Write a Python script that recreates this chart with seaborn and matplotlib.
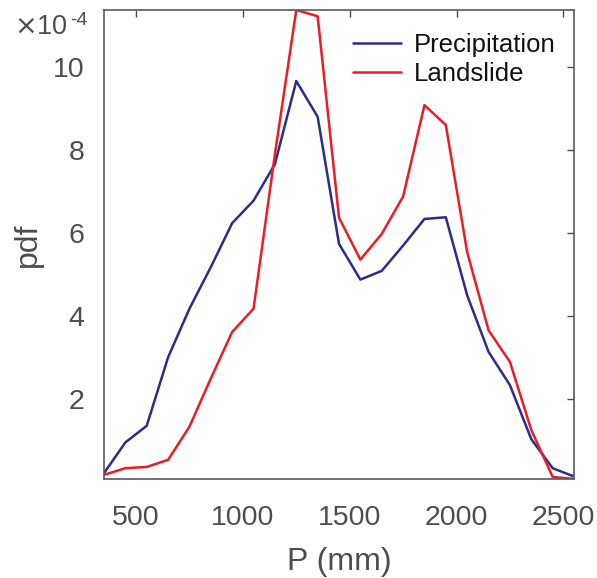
import numpy as np
import pandas as pd
import matplotlib
matplotlib.use("Agg")
import matplotlib.pyplot as plt
import seaborn as sns

# Data (pdf in units of 1e-4)
p_mm = [350, 450, 550, 650, 750, 850, 950, 1050, 1150, 1250, 1350, 1450,
        1550, 1650, 1750, 1850, 1950, 2050, 2150, 2250, 2350, 2450, 2550]
precipitation = [0.22, 0.96, 1.36, 3.01, 4.18, 5.18, 6.24, 6.78, 7.66, 9.66, 8.80, 5.74,
                 4.88, 5.09, 5.70, 6.34, 6.38, 4.50, 3.14, 2.34, 1.04, 0.34, 0.14]
landslide = [0.18, 0.34, 0.37, 0.54, 1.34, 2.50, 3.62, 4.18, 7.90, 11.37, 11.22, 6.37,
             5.36, 5.98, 6.88, 9.08, 8.60, 5.54, 3.66, 2.90, 1.26, 0.13, 0.08]
series_names = ["Precipitation", "Landslide"]
x_ticks = [500, 1000, 1500, 2000, 2500]
y_ticks = [2, 4, 6, 8, 10]

df = pd.DataFrame({
    "P": p_mm * 2,
    "pdf": precipitation + landslide,
    "series": [series_names[0]] * len(p_mm) + [series_names[1]] * len(p_mm),
})

sns.set_theme(style="white")
plt.rcParams["font.family"] = ["Liberation Sans", "DejaVu Sans"]

fig = plt.figure(figsize=(5.97, 5.78), dpi=100)
ax = fig.add_axes([0.1742, 0.1713, 0.7873, 0.8114])

palette = {"Precipitation": "#2B2C8C", "Landslide": "#EC1C24"}
sns.lineplot(data=df, x="P", y="pdf", hue="series", palette=palette,
             linewidth=1.8, ax=ax, legend=True)

ax.set_xlim(350, 2550)
ax.set_ylim(0.08, 11.37)
ax.set_xticks(x_ticks)
ax.set_yticks(y_ticks)
gray = "#4D4D4D"
ax.tick_params(direction="in", length=5, width=1.0, colors=gray,
               labelsize=20.5, top=True, right=True, labeltop=False, labelright=False)
ax.tick_params(axis="x", pad=19)
ax.tick_params(axis="y", pad=14)
for s in ax.spines.values():
    s.set_color("#5A5A5A")
    s.set_linewidth(1.2)
ax.set_xlabel("P (mm)", fontsize=23, color=gray, labelpad=11)
ax.set_ylabel("pdf", fontsize=23, color=gray, labelpad=7)

leg = ax.legend(frameon=False, loc="upper right", fontsize=18.5,
                handlelength=1.9, handletextpad=0.5, labelspacing=0.2,
                borderaxespad=0.3, bbox_to_anchor=(1.0, 0.99))
for t in leg.get_texts():
    t.set_color("#111111")

fig.text(0.024, 0.941, r"$\times$10", fontsize=19.5, color=gray, ha="left", va="baseline")
fig.text(0.117, 0.957, "-4", fontsize=14, color=gray, ha="left", va="baseline")

fig.savefig("out.png", dpi=100)
